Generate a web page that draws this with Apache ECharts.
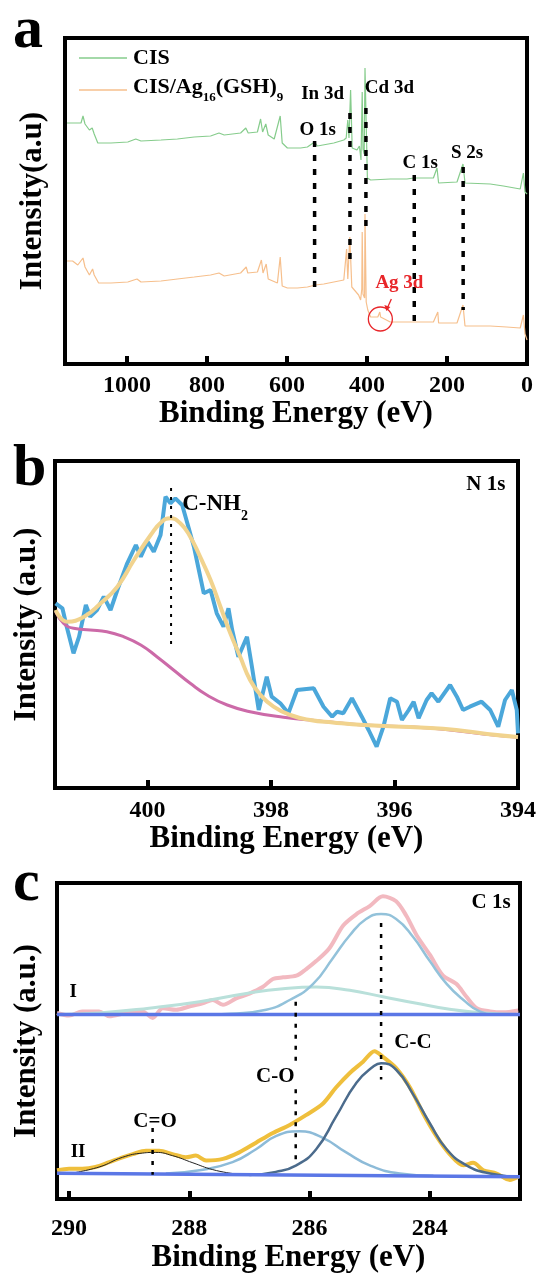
<!DOCTYPE html>
<html><head><meta charset="utf-8">
<script src="https://cdn.jsdelivr.net/npm/echarts@6/dist/echarts.min.js"></script>
<style>html,body{margin:0;padding:0;background:#fff}#c{width:539px;height:1274px}</style>
</head><body><div id="c"></div>
<script>
const F = '"Liberation Serif","Times New Roman",serif';

// ---------- Panel a: survey spectra [binding energy (eV), intensity] ----------
const surveyCIS = [[1150,241],[1115,241],[1110,248],[1105,240],[1094,234],[1087,236],[1082,230],[1073,221],[1040,221],[998,222],[978,225],[965,223],[915,224],[874,225],[832,227],[791,228],[770,231],[757,229],[716,231],[703,236],[697,231],[674,232],[666,245],[661,232],[653,240],[647,229],[632,225],[617,248],[612,221],[599,216],[566,216],[549,217],[531,222],[524,218],[483,221],[458,224],[452,226],[448,244],[445,226],[441,274],[437,216],[425,214],[419,218],[415,204],[412,272],[410,215],[407,210],[405,296],[402,240],[399,186],[395,184],[391,184],[342,185],[300,185],[283,186],[234,186],[225,196],[221,181],[175,182],[160,200],[155,181],[92,180],[59,178],[17,175],[9,191],[5,172],[0,170]];
const surveyAg = [[1150,103],[1136,103],[1123,99],[1110,106],[1105,97],[1094,89],[1086,95],[1082,89],[1071,81],[1040,81],[998,82],[975,85],[965,82],[915,83],[874,85],[832,87],[791,89],[770,91],[757,88],[716,91],[702,97],[698,91],[674,92],[664,104],[660,91],[652,100],[647,85],[624,81],[617,107],[612,78],[599,76],[574,76],[549,77],[529,79],[508,80],[458,84],[453,86],[451,115],[448,85],[443,127],[438,77],[421,69],[416,64],[413,75],[412,132],[410,70],[406,66],[405,150],[402,62],[398,54],[391,47],[373,47],[370,48],[368,52],[366,47],[342,42],[283,42],[234,42],[223,52],[221,41],[175,41],[160,59],[155,38],[92,38],[51,37],[17,36],[9,49],[5,30],[0,24]];
// peak markers: [energy, top, bottom]
const aPeakLines = [[531,223,75],[442.6,251,102],[402.7,256,131],[281.8,189,42],[159.6,197,54]];
const aPeakLabels = [['O 1s',523,234],['In 3d',511,270],['Cd 3d',344,276],['C 1s',267,201],['S 2s',150,211]];
const aTicks = [0,200,400,600,800,1000];

// ---------- Panel b: N 1s ----------
const n1sRaw = [[401.49,184.7],[401.38,179.7],[401.31,161.3],[401.2,134.7],[401.11,151.3],[401.0,183],[400.93,171.3],[400.82,178],[400.71,191.3],[400.6,178],[400.49,198],[400.33,224.7],[400.19,243],[400.11,231.3],[400.0,246.3],[399.9,236.3],[399.79,253],[399.71,291.3],[399.63,284.7],[399.55,289.7],[399.44,283],[399.34,261.3],[399.25,241.3],[399.17,218],[399.09,194.7],[398.98,198],[398.88,174.7],[398.77,161.3],[398.69,179.7],[398.63,158],[398.53,131.3],[398.39,151.3],[398.31,121.3],[398.2,78],[398.07,111.3],[397.99,91.3],[397.85,84.7],[397.72,74.7],[397.58,98],[397.31,99.7],[397.15,81.3],[397.01,71.3],[396.93,76.3],[396.83,74.7],[396.69,89.7],[396.53,71.3],[396.42,58],[396.29,41.3],[396.18,61.3],[396.07,89.7],[395.96,86.3],[395.88,68],[395.77,78],[395.69,86.3],[395.61,69.7],[395.48,88],[395.4,94.7],[395.29,86.3],[395.1,103],[394.99,91.3],[394.89,78],[394.78,81.3],[394.59,86.3],[394.45,78],[394.32,61.3],[394.21,88],[394.1,98],[394.02,78],[394.0,54.7]];
const n1sFit = [[401.49,178],[401.3,166.3],[401.03,171.3],[400.76,184.7],[400.49,201.3],[400.22,228],[399.95,253],[399.77,266.3],[399.63,269.7],[399.47,264.7],[399.31,251.3],[399.15,231.3],[398.98,208],[398.82,181.3],[398.66,154.7],[398.5,131.3],[398.34,108],[398.17,93],[397.96,81.3],[397.69,73],[397.37,68],[397.0,65.5],[396.5,63],[395.5,60.3],[395.0,58],[394.5,54],[394.0,51]];
const n1sBg = [[401.49,176.3],[401.36,164.7],[401.2,159.7],[400.93,158],[400.66,156.3],[400.39,151.3],[400.11,143],[399.85,131.3],[399.58,118],[399.31,104.7],[399.04,93],[398.71,83],[398.34,76.3],[397.8,70.7],[397.26,67.3],[396.72,64],[396.18,62],[395.64,60.7],[395.1,58],[394.56,54],[394.0,50.7]];
const bPeakLines = [[399.62,300,142]];
const bTicks = [394,396,398,400];

// ---------- Panel c: C 1s ----------
const c1sRawI = [[290.2,191.3],[290,188.7],[289.78,193],[289.5,193],[289.33,188],[289.06,191.3],[288.78,193],[288.61,186.3],[288.44,196.3],[288.22,194.7],[288,198],[287.78,201.3],[287.61,204.7],[287.44,199.7],[287.22,206.3],[287,211.3],[286.78,218],[286.61,226.3],[286.44,228],[286.22,229.7],[286.06,236.3],[285.89,244.7],[285.67,258],[285.44,281.3],[285.22,293],[285,301.3],[284.78,311.3],[284.56,306.3],[284.39,291.3],[284.22,271.3],[284,251.3],[283.78,229.7],[283.56,221.3],[283.39,208],[283.22,196.3],[283,193],[282.78,192],[282.53,194]];
const c1sCCI = [[287.6,189.7],[287.33,190.5],[286.72,194.7],[286.33,204.7],[285.94,221.3],[285.61,248],[285.33,271.3],[285.06,288],[284.81,293],[284.56,288],[284.28,269.7],[284,244.7],[283.72,221.3],[283.44,204.7],[283.17,193],[282.89,189.7],[282.6,189.7]];
const c1sBroadI = [[290.2,189.7],[289.5,191.3],[288.67,196.3],[287.83,203],[287,212],[286.44,216.3],[285.89,218],[285.33,214.7],[284.78,208],[284.22,201.3],[283.67,195.3],[283.11,191.3],[282.53,189.7]];
const c1sBaseI = [[290.2,189.7],[282.5,189.7]];
const c1sRawII = [[290.2,29.7],[290,31.3],[289.78,31.3],[289.56,33],[289.33,38],[289.11,43],[288.94,46.3],[288.72,49.7],[288.5,49.7],[288.28,46.3],[288.06,43],[287.89,44.7],[287.72,39.7],[287.44,41.3],[287.17,48],[286.89,58],[286.61,68],[286.33,76.3],[286.06,86.3],[285.78,98],[285.56,114.7],[285.33,129.7],[285.11,141.3],[284.92,152],[284.78,146.3],[284.56,134.7],[284.33,114.7],[284.11,88],[283.89,64.7],[283.67,46.3],[283.44,34.7],[283.28,37.3],[283.11,29.7],[282.89,26.3],[282.67,19.7],[282.53,23]];
const c1sCdoubleO = [[290,26.3],[289.5,33],[289.11,43],[288.78,47.3],[288.56,48],[288.28,44.7],[287.94,37.3],[287.61,30.3],[287.28,26.3]];
const c1sCO = [[288.39,26.3],[287.83,29.7],[287.28,38],[286.89,51.3],[286.56,64.7],[286.17,69.7],[285.78,63],[285.39,48],[285,34.7],[284.5,26.3],[283.94,24]];
const c1sCCII = [[287,24.7],[286.56,28],[286.22,34.7],[285.89,51.3],[285.56,84.7],[285.22,119.7],[284.94,136.3],[284.81,139.7],[284.56,133],[284.28,108],[284,78],[283.72,51.3],[283.39,34.7],[283,26.3],[282.53,23]];
const c1sBaseII = [[290.2,26.5],[282.5,23]];
const cPeakLines = [[286.23,203,136],[286.23,113,38],[284.81,284,123],[288.61,73,25]];
const cLabels = [['C-C',284.28,161],['C-O',286.57,126],['C=O',288.57,80],['I',289.93,213],['II',289.85,48]];
const cTicks = [284,286,288,290];

const chart = echarts.init(document.getElementById('c'));

function xa(gi, min, max, ticks, margin, gap) {
  return {
    gridIndex: gi, type: 'value', min: min, max: max, inverse: true,
    axisLine: {show: false},
    axisTick: {show: true, inside: true, length: 8, customValues: ticks, lineStyle: {width: 4, color: '#000'}},
    axisLabel: {customValues: ticks, formatter: v => String(v), fontFamily: F, fontWeight: 'bold', fontSize: 24, color: '#000', margin: margin},
    splitLine: {show: false},
    name: 'Binding Energy (eV)', nameLocation: 'middle', nameGap: gap,
    nameTextStyle: {fontFamily: F, fontWeight: 'bold', fontSize: 31, color: '#000'}
  };
}
function ya(gi, max, name, gap) {
  return {
    gridIndex: gi, type: 'value', min: 0, max: max,
    axisLine: {show: false}, axisTick: {show: false}, axisLabel: {show: false}, splitLine: {show: false},
    name: name, nameLocation: 'middle', nameGap: gap, nameRotate: 90,
    nameTextStyle: {fontFamily: F, fontWeight: 'bold', fontSize: 31, color: '#000'}
  };
}
function ln(gi, data, color, width, z, extra) {
  return Object.assign({type: 'line', xAxisIndex: gi, yAxisIndex: gi, data: data, symbol: 'none',
    lineStyle: {color: color, width: width}, z: z || 2, silent: true}, extra || {});
}
function dash(gi, arr, width, dashArr) {
  return arr.map(p => ln(gi, [[p[0], p[1]], [p[0], p[2]]], '#000', width, 5, {lineStyle: {color: '#000', width: width, type: dashArr}}));
}
const gridBase = {show: true, borderColor: '#000', borderWidth: 4, backgroundColor: 'transparent'};

const series = [].concat(
  [ln(0, surveyCIS, '#86cc8c', 1.2, 3), ln(0, surveyAg, '#f6bf8c', 1.2, 3)],
  dash(0, aPeakLines, 3.5, [6, 8]),
  [ln(1, n1sRaw, '#4ba7da', 4, 2), ln(1, n1sBg, '#cc6aa8', 3, 3, {smooth: true}), ln(1, n1sFit, '#f1d38e', 4, 4, {smooth: true})],
  dash(1, bPeakLines, 2, [3, 6]),
  [ln(2, c1sRawI, '#f2b9c0', 4, 2, {smooth: 0.3}),
   ln(2, c1sBroadI, '#b9e0da', 3, 3, {smooth: true}),
   ln(2, c1sCCI, '#93c2da', 2.5, 3, {smooth: true}),
   ln(2, c1sBaseI, '#5b77e6', 3.5, 4),
   ln(2, c1sRawII, '#efbf3c', 4, 2, {smooth: 0.3}),
   ln(2, c1sCO, '#8dbbd8', 2.5, 3, {smooth: true}),
   ln(2, c1sCCII, '#4b6b8c', 2.5, 3, {smooth: true}),
   ln(2, c1sCdoubleO, '#222', 1, 3, {smooth: true}),
   ln(2, c1sBaseII, '#5b77e6', 3.5, 4)],
  dash(2, cPeakLines, 2.5, [4, 7])
);

chart.setOption({
  animation: false,
  backgroundColor: '#fff',
  grid: [
    Object.assign({left: 65, top: 38, width: 462, height: 326}, gridBase),
    Object.assign({left: 55, top: 461, width: 463, height: 327}, gridBase),
    Object.assign({left: 57, top: 883, width: 463, height: 325}, gridBase)
  ],
  xAxis: [xa(0, 0, 1155, aTicks, 10, 26), xa(1, 394, 401.5, bTicks, 11, 30), xa(2, 282.5, 290.2, cTicks, 18, 35)],
  yAxis: [ya(0, 326, 'Intensity(a.u)', 17), ya(1, 327, 'Intensity (a.u.)', 13), ya(2, 325, 'Intensity (a.u.)', 15)],
  series: series
});

const P = (gi, x, y) => chart.convertToPixel({gridIndex: gi}, [x, y]);
const g = [];
function txt(x, y, s, size, opts) {
  g.push({type: 'text', x: x, y: y, z: 50, style: Object.assign({text: s, fontFamily: F, fontWeight: 'bold', fontSize: size, fill: '#000', align: 'center', verticalAlign: 'middle'}, opts || {})});
}
// panel letters
txt(13, 31, 'a', 60, {align: 'left'});
txt(13, 469, 'b', 60, {align: 'left'});
txt(13, 884, 'c', 60, {align: 'left'});
// legend (panel a)
g.push({type: 'line', z: 50, shape: {x1: 79, y1: 58, x2: 127, y2: 58}, style: {stroke: '#86cc8c', lineWidth: 1.5}});
g.push({type: 'line', z: 50, shape: {x1: 79, y1: 90, x2: 127, y2: 90}, style: {stroke: '#f6bf8c', lineWidth: 1.5}});
txt(133, 58, 'CIS', 22, {align: 'left'});
g.push({type: 'text', x: 133, y: 76, z: 50, style: {
  text: '{n|CIS/Ag}{s|16}{n|(GSH)}{s|9}', fontFamily: F, fontWeight: 'bold', fill: '#000', align: 'left', verticalAlign: 'top',
  rich: {n: {fontSize: 22, lineHeight: 28, verticalAlign: 'top', fontFamily: F, fontWeight: 'bold'},
         s: {fontSize: 13, lineHeight: 13, padding: [15, 0, 0, 0], verticalAlign: 'top', fontFamily: F, fontWeight: 'bold'}}}});
aPeakLabels.forEach(l => { const p = P(0, l[1], l[2]); txt(p[0], p[1], l[0], 19); });
// Ag 3d annotation
{
  const p = P(0, 319, 81); txt(p[0], p[1], 'Ag 3d', 19, {fill: '#e8262a'});
  const c = P(0, 366.6, 45);
  g.push({type: 'circle', z: 50, shape: {cx: c[0], cy: c[1], r: 12}, style: {stroke: '#e8262a', fill: 'none', lineWidth: 1.3}});
  g.push({type: 'line', z: 50, shape: {x1: c[0] + 11, y1: c[1] - 20, x2: c[0] + 7, y2: c[1] - 11}, style: {stroke: '#e8262a', lineWidth: 1.3}});
  g.push({type: 'polygon', z: 50, shape: {points: [[c[0] + 6, c[1] - 8], [c[0] + 4, c[1] - 14], [c[0] + 10, c[1] - 12]]}, style: {fill: '#e8262a'}});
}
// panel b labels
{
  const p = P(1, 399.44, 281);
  g.push({type: 'text', x: p[0], y: p[1] - 14, z: 50, style: {
    text: '{n|C-NH}{s|2}', fontFamily: F, fontWeight: 'bold', fill: '#000', align: 'left', verticalAlign: 'top',
    rich: {n: {fontSize: 23, lineHeight: 28, verticalAlign: 'top', fontFamily: F, fontWeight: 'bold'},
           s: {fontSize: 14, lineHeight: 14, padding: [16, 0, 0, 0], verticalAlign: 'top', fontFamily: F, fontWeight: 'bold'}}}});
  const q = P(1, 394.52, 303); txt(q[0], q[1], 'N 1s', 21);
}
// panel c labels
{
  const q = P(2, 282.98, 305); txt(q[0], q[1], 'C 1s', 21);
  cLabels.forEach(l => { const p = P(2, l[1], l[2]); txt(p[0], p[1], l[0], l[0].length > 2 ? 21 : 19); });
}
chart.setOption({graphic: g});
</script></body></html>
